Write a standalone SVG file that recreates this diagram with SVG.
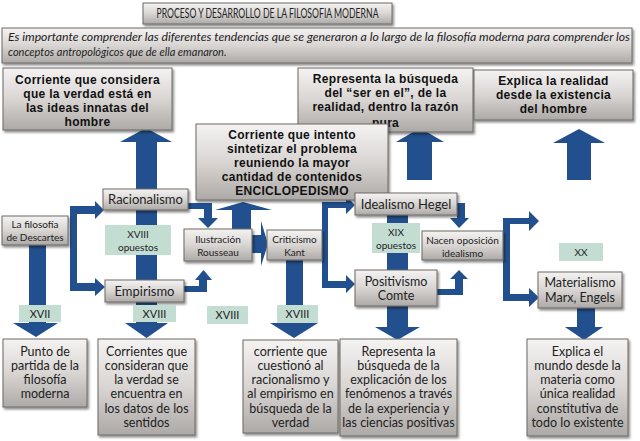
<svg xmlns="http://www.w3.org/2000/svg" width="640" height="441" viewBox="0 0 640 441">
<defs>
<linearGradient id="g" x1="0" y1="0" x2="0" y2="1">
<stop offset="0" stop-color="#f5f3f2"/>
<stop offset="0.5" stop-color="#d8d5d3"/>
<stop offset="1" stop-color="#ada9a6"/>
</linearGradient>
<filter id="sh" x="-10%" y="-10%" width="125%" height="130%">
<feDropShadow dx="1.5" dy="2" stdDeviation="1.2" flood-color="#000" flood-opacity="0.45"/>
</filter>
<style>
.box{fill:url(#g);stroke:#6d6865;stroke-width:1;filter:url(#sh)}
.lab{fill:#c4ddd2}
.ar{fill:#22508e}
.bt{font-family:"Liberation Sans",Arial,sans-serif;font-weight:bold;font-size:12px;fill:#111;text-anchor:middle;letter-spacing:0.3px}
.st{font-family:Lato,"Open Sans",sans-serif;fill:#222;text-anchor:middle}
.s10{font-size:10px}
.s12{font-size:12.5px}
.s13{font-size:13px}
</style>
</defs>
<rect width="640" height="441" fill="#ffffff"/>

<g id="title">
<rect class="box" x="143" y="3" width="249" height="21"/>
<text class="st" x="267.5" y="18" font-size="13.5" textLength="222" lengthAdjust="spacingAndGlyphs">PROCESO Y DESARROLLO DE LA FILOSOFIA MODERNA</text>
</g>
<g id="intro">
<rect class="box" x="2" y="28" width="630" height="35"/>
<text font-family="Lato,'Open Sans',sans-serif" font-style="italic" font-size="11" fill="#222" x="8" y="41" textLength="622" lengthAdjust="spacingAndGlyphs">Es importante comprender las diferentes tendencias que se generaron a lo largo de la filosofía moderna para comprender los</text>
<text font-family="Lato,'Open Sans',sans-serif" font-style="italic" font-size="11" fill="#222" x="8" y="56">conceptos antropológicos que de ella emanaron.</text>
</g>

<g id="connectors">
<polygon class="ar" points="146,128 172,142 157,142 157,323 168,323 146.5,338 125,323 136,323 136,142 120,142"/>
<polygon class="ar" points="29,245 46,245 46,323 58,323 36,337 13,323 29,323"/>
<polygon class="ar" points="420,128 444,142 432,142 432,180 407,180 407,142 396,142"/>
<polygon class="ar" points="579,129 605,143 591,143 591,180 567,180 567,143 553,143"/>
<polygon class="ar" points="243,202 272,210 251,210 251,229 232,229 232,210 215,210"/>
<polygon class="ar" points="387,215 408,215 408,327 420,327 397.5,340 375,327 387,327"/>
<polygon class="ar" points="286,260 303,260 303,323 318,323 294,338 270,323 286,323"/>
<polygon class="ar" points="577,308 595,308 595,327 603,327 584,340 565,327 577,327"/>
<polygon class="ar" points="70,206 95,206 95,201 104,210 95,219 95,214 77,214 77,283 95,283 95,278 105,287 95,296 95,291 70,291"/>
<polygon class="ar" points="188,203 212,203 212,218 218,218 208,228 198,218 204,218 204,209 188,209"/>
<polygon class="ar" points="184,286 199,286 199,280 195,280 203.5,270 212,280 207,280 207,292 184,292"/>
<polygon class="ar" points="252,235 261,235 261,221 268,244 261,266 261,253 252,253"/>
<polygon class="ar" points="322,202 346,202 346,196 355,205 346,214 346,208 328,208 328,281 346,281 346,275 355,284 346,293 346,288 322,288"/>
<polygon class="ar" points="457,203 465,203 465,218 469,218 459,228 450,218 457,218"/>
<polygon class="ar" points="437,289 455,289 455,279 450,279 459,270 468,279 463,279 463,295 437,295"/>
<polygon class="ar" points="503,218 529,218 529,211 539,221 529,231 529,224 510,224 510,294 529,294 529,288 539,297.5 529,307 529,301 503,301"/>
</g>

<g id="boxA">
<rect class="box" x="3" y="68" width="169" height="62"/>
<text class="bt" x="87.5" y="83.5">Corriente que considera</text>
<text class="bt" x="87.5" y="97.5">que la verdad está en</text>
<text class="bt" x="87.5" y="111.5">las ideas innatas del</text>
<text class="bt" x="87.5" y="126">hombre</text>
</g>
<g id="boxB">
<rect class="box" x="298" y="68" width="175" height="64"/>
<text class="bt" x="385.5" y="82.5">Representa  la búsqueda</text>
<text class="bt" x="385.5" y="96.5">del “ser en el”, de la</text>
<text class="bt" x="385.5" y="110.5">realidad, dentro la razón</text>
<text class="bt" x="385.5" y="127">pura</text>
</g>
<g id="boxD">
<rect class="box" x="474" y="70" width="159" height="50"/>
<text class="bt" x="553.5" y="84.5">Explica la realidad</text>
<text class="bt" x="553.5" y="98.5">desde la existencia</text>
<text class="bt" x="553.5" y="112.5">del hombre</text>
</g>
<g id="boxC">
<rect class="box" x="196" y="124" width="192" height="76"/>
<text class="bt" x="292" y="139">Corriente que intento</text>
<text class="bt" x="292" y="153">sintetizar el problema</text>
<text class="bt" x="292" y="167">reuniendo  la mayor</text>
<text class="bt" x="292" y="181">cantidad de contenidos</text>
<text class="bt" x="292" y="195">ENCICLOPEDISMO</text>
</g>

<g id="descartes">
<rect class="box" x="2" y="216" width="66" height="29"/>
<text class="st s10" x="35" y="228">La filosofía</text>
<text class="st s10" x="35" y="241">de Descartes</text>
</g>
<g id="racionalismo">
<rect class="box" x="103" y="189" width="85" height="21"/>
<text class="st s13" x="145.5" y="204">Racionalismo</text>
</g>
<g id="opuestos18">
<rect class="lab" x="105" y="225" width="66" height="30"/>
<text class="st s10" x="138" y="238">XVIII</text>
<text class="st s10" x="138" y="251">opuestos</text>
</g>
<g id="empirismo">
<rect class="box" x="105" y="280" width="79" height="22"/>
<text class="st s13" x="144.5" y="295.5">Empirismo</text>
</g>
<g id="ilustracion">
<rect class="box" x="184" y="229" width="68" height="32"/>
<text class="st s10" x="218" y="242.5">Ilustración</text>
<text class="st s10" x="218" y="255.5">Rousseau</text>
</g>
<g id="kant">
<rect class="box" x="267" y="230" width="55" height="30"/>
<text class="st s10" x="294.5" y="242.5">Criticismo</text>
<text class="st s10" x="294.5" y="255.5">Kant</text>
</g>
<g id="hegel">
<rect class="box" x="355" y="193" width="102" height="22"/>
<text class="st s13" x="406" y="208.5">Idealismo Hegel</text>
</g>
<g id="opuestos19">
<rect class="lab" x="372" y="223" width="48" height="30"/>
<text class="st s10" x="396" y="236">XIX</text>
<text class="st s10" x="396" y="249">opuestos</text>
</g>
<g id="comte">
<rect class="box" x="355" y="270" width="82" height="36"/>
<text class="st s12" x="396" y="285.5">Positivismo</text>
<text class="st s12" x="396" y="300">Comte</text>
</g>
<g id="nacen">
<rect class="box" x="422" y="231" width="81" height="29"/>
<text class="st s10" x="462.5" y="244">Nacen oposición</text>
<text class="st s10" x="462.5" y="256.5">idealismo</text>
</g>
<g id="xx">
<rect class="lab" x="559" y="243" width="44" height="18"/>
<text class="st s10" x="581" y="256">XX</text>
</g>
<g id="materialismo">
<rect class="box" x="538" y="272" width="84" height="36"/>
<text class="st s12" x="580" y="286.5">Materialismo</text>
<text class="st s12" x="580" y="302">Marx, Engels</text>
</g>

<g id="labels">
<rect class="lab" x="19" y="305" width="42" height="17"/>
<text class="st" font-size="11" x="40" y="317.5">XVII</text>
<rect class="lab" x="133" y="305" width="43" height="17"/>
<text class="st" font-size="11" x="154.5" y="317.5">XVIII</text>
<rect class="lab" x="207" y="306" width="41" height="18"/>
<text class="st" font-size="11" x="227.5" y="319">XVIII</text>
<rect class="lab" x="277" y="305" width="41" height="18"/>
<text class="st" font-size="11" x="297.5" y="318">XVIII</text>
</g>

<g id="punto">
<rect class="box" x="3" y="339" width="84" height="68"/>
<text class="st s12" x="45" y="356">Punto de</text>
<text class="st s12" x="45" y="370">partida de la</text>
<text class="st s12" x="45" y="384">filosofía</text>
<text class="st s12" x="45" y="398">moderna</text>
</g>
<g id="corrientes">
<rect class="box" x="98" y="339" width="97" height="96"/>
<text class="st s12" x="146.5" y="356">Corrientes que</text>
<text class="st s12" x="146.5" y="370">consideran que</text>
<text class="st s12" x="146.5" y="384">la verdad se</text>
<text class="st s12" x="146.5" y="398">encuentra en</text>
<text class="st s12" x="146.5" y="413">los datos de los</text>
<text class="st s12" x="146.5" y="427">sentidos</text>
</g>
<g id="cuestiono">
<rect class="box" x="243" y="340" width="95" height="93"/>
<text class="st s12" x="290.5" y="356">corriente que</text>
<text class="st s12" x="290.5" y="370">cuestionó al</text>
<text class="st s12" x="290.5" y="384">racionalismo y</text>
<text class="st s12" x="290.5" y="398">al empirismo en</text>
<text class="st s12" x="290.5" y="413">búsqueda de la</text>
<text class="st s12" x="290.5" y="427">verdad</text>
</g>
<g id="representa">
<rect class="box" x="340" y="339" width="117" height="97"/>
<text class="st s12" x="398.5" y="356">Representa la</text>
<text class="st s12" x="398.5" y="370">búsqueda de la</text>
<text class="st s12" x="398.5" y="384">explicación de los</text>
<text class="st s12" x="398.5" y="398">fenómenos a través</text>
<text class="st s12" x="398.5" y="413">de la experiencia y</text>
<text class="st s12" x="398.5" y="427">las ciencias positivas</text>
</g>
<g id="explica">
<rect class="box" x="527" y="339" width="101" height="97"/>
<text class="st s12" x="577.5" y="356">Explica el</text>
<text class="st s12" x="577.5" y="370">mundo desde la</text>
<text class="st s12" x="577.5" y="384">materia como</text>
<text class="st s12" x="577.5" y="398">única realidad</text>
<text class="st s12" x="577.5" y="413">constitutiva de</text>
<text class="st s12" x="577.5" y="427">todo lo existente</text>
</g>
</svg>
